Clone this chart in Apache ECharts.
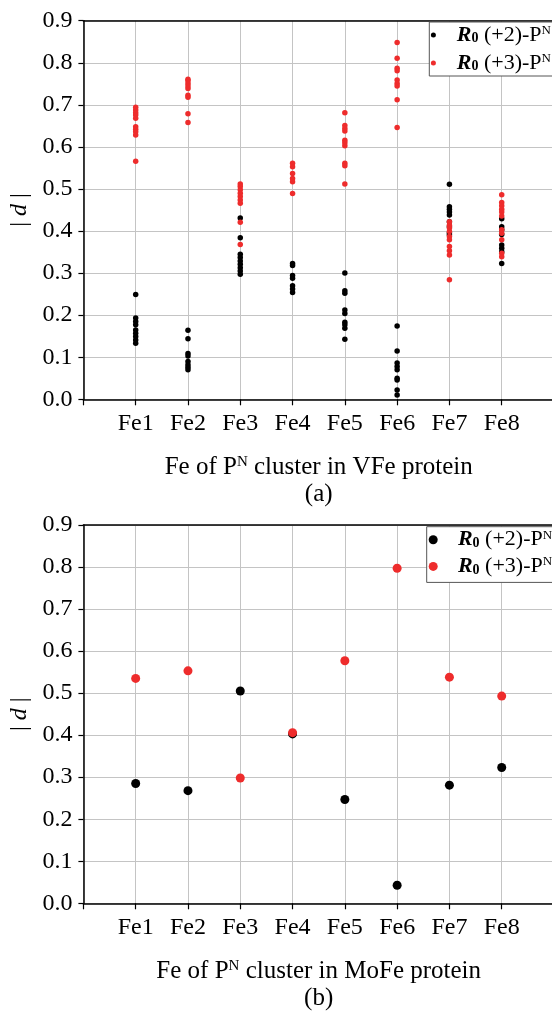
<!DOCTYPE html>
<html>
<head>
<meta charset="utf-8">
<script src="https://cdn.jsdelivr.net/npm/echarts@6/dist/echarts.min.js"></script>
<style>html,body{margin:0;padding:0;background:#fff;}#c{width:552px;height:1013px;}</style>
</head>
<body>
<div id="c"></div>
<script>
// ---- data ----
const categories = ['Fe1','Fe2','Fe3','Fe4','Fe5','Fe6','Fe7','Fe8'];
const yTicks = [0,0.1,0.2,0.3,0.4,0.5,0.6,0.7,0.8,0.9];
// (a) VFe protein: several |d| values per Fe
const vfeR2 = [
  [0.249,0.193,0.185,0.177,0.165,0.157,0.149,0.141,0.133],
  [0.164,0.144,0.109,0.103,0.090,0.082,0.076,0.070],
  [0.431,0.384,0.345,0.337,0.329,0.321,0.313,0.305,0.297],
  [0.323,0.318,0.294,0.288,0.270,0.262,0.254],
  [0.300,0.258,0.252,0.212,0.204,0.183,0.177,0.169,0.143],
  [0.174,0.115,0.086,0.078,0.070,0.050,0.046,0.022,0.010],
  [0.511,0.458,0.452,0.445,0.438,0.422,0.410,0.396,0.391],
  [0.429,0.410,0.403,0.392,0.367,0.359,0.351,0.323]
];
const vfeR3 = [
  [0.694,0.688,0.681,0.676,0.668,0.648,0.642,0.636,0.628,0.566],
  [0.761,0.757,0.751,0.745,0.739,0.723,0.718,0.679,0.658],
  [0.512,0.506,0.498,0.490,0.482,0.474,0.466,0.421,0.368],
  [0.561,0.553,0.537,0.525,0.517,0.489],
  [0.681,0.651,0.644,0.638,0.616,0.610,0.603,0.561,0.555,0.512],
  [0.848,0.811,0.787,0.781,0.759,0.751,0.745,0.712,0.646],
  [0.422,0.414,0.407,0.399,0.387,0.379,0.363,0.353,0.343,0.284],
  [0.486,0.468,0.460,0.452,0.445,0.436,0.403,0.395,0.379,0.347,0.339]
];
// (b) MoFe protein: one value per Fe
const mofeR2 = [0.285,0.268,0.505,0.403,0.247,0.043,0.281,0.323];
const mofeR3 = [0.535,0.553,0.298,0.406,0.577,0.797,0.538,0.493];

// ---- build ----
const FONT = 'Liberation Serif';
const RED = '#ee2c2c';
function multi(arr){ const out=[]; arr.forEach((vals,i)=>vals.forEach(v=>out.push([i+1,v]))); return out; }
function single(arr){ return arr.map((v,i)=>[i+1,v]); }

const richName = {
  n:{fontFamily:FONT,fontSize:25,color:'#000',lineHeight:27},
  sup:{fontFamily:FONT,fontSize:15,color:'#000',lineHeight:27,padding:[0,0,12,0]}
};
function xAxisCfg(gi, title, tag){
  return {
    type:'value', gridIndex:gi, min:0, max:9, interval:1,
    axisLine:{show:true,onZero:false,lineStyle:{color:'#000',width:1.5}},
    axisTick:{show:true,length:6,lineStyle:{color:'#000',width:1.2}},
    axisLabel:{fontFamily:FONT,fontSize:24,color:'#000',margin:12,
      formatter:v=>(v>=1&&v<=8)?categories[v-1]:''},
    splitLine:{show:true,lineStyle:{color:'#c4c4c4',width:1}},
    name:'{n|Fe of P}{sup|N}{n| cluster in '+title+' protein}\n{n|'+tag+'}',
    nameLocation:'middle', nameGap:55,
    nameTextStyle:{rich:richName}
  };
}
function topAxisCfg(gi){
  return {
    type:'value', gridIndex:gi, position:'top', min:0, max:9, interval:1,
    axisLine:{show:true,onZero:false,lineStyle:{color:'#000',width:1.5}},
    axisTick:{show:false}, axisLabel:{show:false}, splitLine:{show:false}
  };
}
function yAxisCfg(gi){
  return {
    type:'value', gridIndex:gi, min:0, max:0.9, interval:0.1,
    axisLine:{show:true,lineStyle:{color:'#000',width:1.5}},
    axisTick:{show:true,length:5,lineStyle:{color:'#000',width:1.2}},
    axisLabel:{fontFamily:FONT,fontSize:24,color:'#000',margin:11,
      formatter:v=>v.toFixed(1)},
    splitLine:{show:true,lineStyle:{color:'#c4c4c4',width:1}},
    name:'{p|| }{i|d}{p| |}', nameLocation:'middle', nameGap:45, nameRotate:90,
    nameTextStyle:{rich:{
      p:{fontFamily:FONT,fontSize:24,color:'#000'},
      i:{fontFamily:FONT,fontSize:24,fontStyle:'italic',color:'#000'}
    }}
  };
}
const legRich = {
  b:{fontFamily:FONT,fontSize:22,fontWeight:'bold',fontStyle:'italic',color:'#000',lineHeight:22},
  s:{fontFamily:FONT,fontSize:14,fontWeight:'bold',color:'#000',lineHeight:22,padding:[7,0,0,0]},
  t:{fontFamily:FONT,fontSize:22,color:'#000',lineHeight:22},
  u:{fontFamily:FONT,fontSize:13,color:'#000',lineHeight:22,padding:[0,0,9,0]}
};
function legFmt(name){
  const ch = name.indexOf('+2')>=0 ? '+2' : '+3';
  return '{b|R}{s|0}{t| ('+ch+')-P}{u|N}';
}
const names = ['R0 (+2)-PN a','R0 (+3)-PN a','R0 (+2)-PN b','R0 (+3)-PN b'];

const option = {
  backgroundColor:'#fff',
  animation:false,
  grid:[
    {left:83.4, top:20.7, width:470.6, height:378.6, outerBoundsMode:'none', containLabel:false},
    {left:83.4, top:525, width:470.6, height:378.3, outerBoundsMode:'none', containLabel:false}
  ],
  xAxis:[ xAxisCfg(0,'VFe','(a)'), xAxisCfg(1,'MoFe','(b)'), topAxisCfg(0), topAxisCfg(1) ],
  yAxis:[ yAxisCfg(0), yAxisCfg(1) ],
  legend:[
    {data:[names[0],names[1]], left:429.3, top:22, orient:'vertical', itemGap:6,
     itemWidth:36.8, itemHeight:5, icon:'circle', padding:[2,60,2,1.6],
     backgroundColor:'#fff', borderColor:'#555', borderWidth:1, borderRadius:0,
     formatter:legFmt, textStyle:{rich:legRich}, selectedMode:false},
    {data:[names[2],names[3]], left:426.7, top:526.7, orient:'vertical', itemGap:4.7,
     itemWidth:39.4, itemHeight:9, icon:'circle', padding:[2,60,5,2],
     backgroundColor:'#fff', borderColor:'#555', borderWidth:1, borderRadius:0,
     formatter:legFmt, textStyle:{rich:legRich}, selectedMode:false}
  ],
  series:[
    {name:names[0], type:'scatter', xAxisIndex:0, yAxisIndex:0, symbolSize:5.5,
     itemStyle:{color:'#000',opacity:1}, data:multi(vfeR2)},
    {name:names[1], type:'scatter', xAxisIndex:0, yAxisIndex:0, symbolSize:5.5,
     itemStyle:{color:RED,opacity:1}, data:multi(vfeR3)},
    {name:names[2], type:'scatter', xAxisIndex:1, yAxisIndex:1, symbolSize:9,
     itemStyle:{color:'#000',opacity:1}, data:single(mofeR2)},
    {name:names[3], type:'scatter', xAxisIndex:1, yAxisIndex:1, symbolSize:9,
     itemStyle:{color:RED,opacity:1}, data:single(mofeR3)}
  ]
};
const chart = echarts.init(document.getElementById('c'), null, {renderer:'canvas'});
chart.setOption(option);
</script>
</body>
</html>
